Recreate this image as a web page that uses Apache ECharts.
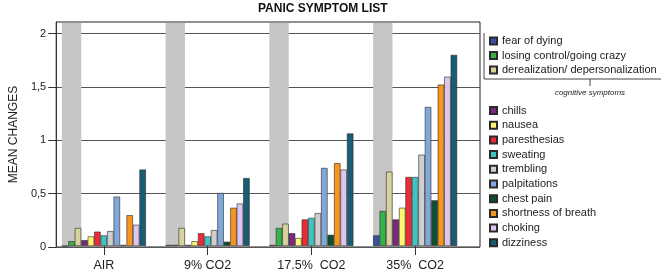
<!DOCTYPE html>
<html>
<head>
<meta charset="utf-8">
<script src="https://cdn.jsdelivr.net/npm/echarts@6/dist/echarts.min.js"></script>
<style>
    html, body { margin: 0; padding: 0; background: #fff; }
    #chart { width: 661px; height: 272px; }
</style>
</head>
<body>
<div id="chart"></div>
<script>
var categories = ['AIR', '9% CO2', '17.5%  CO2', '35%  CO2'];
var yTicks = [0, 0.5, 1, 1.5, 2];
var yMax = 2.11;

var symptomNames = [
    'fear of dying', 'losing control/going crazy', 'derealization/ depersonalization',
    'chills', 'nausea', 'paresthesias', 'sweating', 'trembling', 'palpitations',
    'chest pain', 'shortness of breath', 'choking', 'dizziness'
];
var symptomColors = [
    '#3b4fa3', '#34b34a', '#d8d29c',
    '#7a2a7c', '#fff56e', '#ee2a36', '#3fc4c2', '#cfcfcf', '#80a8d8',
    '#0f4f2c', '#f6961f', '#dfc6ee', '#185d74'
];

// mean changes per symptom: AIR, 9%, 17.5%, 35%
var fearOfDying = [0, 0.01, 0.01, 0.10];
var losingControl = [0.045, 0.01, 0.17, 0.33];
var derealization = [0.17, 0.17, 0.21, 0.70];
var chills = [0.055, 0.01, 0.12, 0.25];
var nausea = [0.09, 0.045, 0.075, 0.36];
var paresthesias = [0.135, 0.12, 0.25, 0.65];
var sweating = [0.10, 0.09, 0.265, 0.65];
var trembling = [0.14, 0.15, 0.31, 0.86];
var palpitations = [0.465, 0.50, 0.735, 1.31];
var chestPain = [0.01, 0.04, 0.105, 0.43];
var shortnessOfBreath = [0.29, 0.36, 0.78, 1.52];
var choking = [0.20, 0.40, 0.72, 1.595];
var dizziness = [0.72, 0.64, 1.06, 1.80];

var symptomValues = [
    fearOfDying, losingControl, derealization, chills, nausea, paresthesias,
    sweating, trembling, palpitations, chestPain, shortnessOfBreath, choking, dizziness
];

var cognitiveCount = 3;
var categoryGap = 0.19;
var fontFamily = 'Liberation Sans, Arial, sans-serif';

var chartDom = document.getElementById('chart');
var myChart = echarts.init(chartDom);

// gray band behind the cognitive symptom bars of each group
function renderBand(params, api) {
    var base = api.coord([api.value(0), 0]);
    var top = api.coord([api.value(0), api.value(1)]);
    var slot = api.size([1, 0])[0];
    var groupWidth = slot * (1 - categoryGap);
    var w = groupWidth * cognitiveCount / symptomNames.length;
    return {
        type: 'rect',
        shape: { x: base[0] - groupWidth / 2, y: top[1] + 1, width: w, height: base[1] - top[1] - 1 },
        style: { fill: '#c6c6c6' }
    };
}

var series = [{
    name: 'band',
    type: 'custom',
    xAxisIndex: 0,
    yAxisIndex: 0,
    z: 1,
    silent: true,
    renderItem: renderBand,
    data: categories.map(function (c, i) { return [i, yMax]; })
}];
symptomNames.forEach(function (name, i) {
    series.push({
        name: name,
        type: 'bar',
        xAxisIndex: 0,
        yAxisIndex: 0,
        z: 2,
        barGap: 0,
        barCategoryGap: (categoryGap * 100) + '%',
        itemStyle: { color: symptomColors[i], borderColor: '#2a2a2a', borderWidth: 0.6 },
        data: symptomValues[i]
    });
});

var legendText = { color: '#222', fontSize: 11, fontFamily: fontFamily };

var option = {
    animation: false,
    title: {
        text: 'PANIC SYMPTOM LIST',
        left: 258,
        top: 3,
        padding: 0,
        textStyle: { color: '#111', fontSize: 12, fontWeight: 'bold', fontFamily: fontFamily }
    },
    legend: [{
        data: symptomNames.slice(0, cognitiveCount),
        orient: 'vertical',
        left: 489,
        top: 35.5,
        padding: 0,
        itemWidth: 7,
        itemHeight: 7,
        itemGap: 3.5,
        icon: 'rect',
        selectedMode: false,
        textStyle: legendText
    }, {
        data: symptomNames.slice(cognitiveCount),
        orient: 'vertical',
        left: 489,
        top: 105,
        padding: 0,
        itemWidth: 7,
        itemHeight: 7,
        itemGap: 3.7,
        icon: 'rect',
        selectedMode: false,
        textStyle: legendText
    }],
    grid: [
        { left: 52, right: 194, top: 22, bottom: 25 },
        { left: 39, right: 181, top: 22, bottom: 25, show: true, borderColor: '#222', borderWidth: 1 }
    ],
    xAxis: [{
        type: 'category',
        gridIndex: 0,
        data: categories,
        axisLine: { show: false },
        axisTick: { show: true, alignWithLabel: true, length: 9, lineStyle: { color: '#333' } },
        axisLabel: { color: '#222', fontSize: 12.5, margin: 13, fontFamily: fontFamily }
    }, {
        type: 'value',
        gridIndex: 1,
        show: false
    }],
    yAxis: [{
        type: 'value',
        gridIndex: 0,
        min: 0,
        max: yMax,
        show: false
    }, {
        type: 'value',
        gridIndex: 1,
        min: 0,
        max: yMax,
        interval: 0.5,
        name: 'MEAN CHANGES',
        nameLocation: 'middle',
        nameGap: 30,
        nameTextStyle: { color: '#222', fontSize: 12, fontFamily: fontFamily },
        axisLine: { show: true, lineStyle: { color: '#333' } },
        axisTick: { show: true, length: 8, customValues: yTicks, lineStyle: { color: '#333' } },
        axisLabel: {
            customValues: yTicks,
            color: '#222',
            fontSize: 11,
            margin: 10,
            fontFamily: fontFamily,
            formatter: function (v) { return String(v).replace('.', ','); }
        },
        splitLine: { show: true, lineStyle: { color: '#555', width: 1 } }
    }],
    graphic: [{
        type: 'polyline',
        shape: { points: [[484, 33], [484, 79], [661, 79]] },
        style: { stroke: '#444', lineWidth: 1, fill: null }
    }, {
        type: 'line',
        shape: { x1: 590, y1: 79, x2: 590, y2: 86 },
        style: { stroke: '#444', lineWidth: 1 }
    }, {
        type: 'text',
        x: 590,
        y: 93,
        style: {
            text: 'cognitive symptoms',
            fill: '#222',
            fontSize: 8,
            fontStyle: 'italic',
            fontFamily: fontFamily,
            align: 'center',
            verticalAlign: 'middle'
        }
    }],
    series: series
};
myChart.setOption(option);

window.addEventListener('resize', function () {
    myChart.resize();
});
</script>
</body>
</html>
